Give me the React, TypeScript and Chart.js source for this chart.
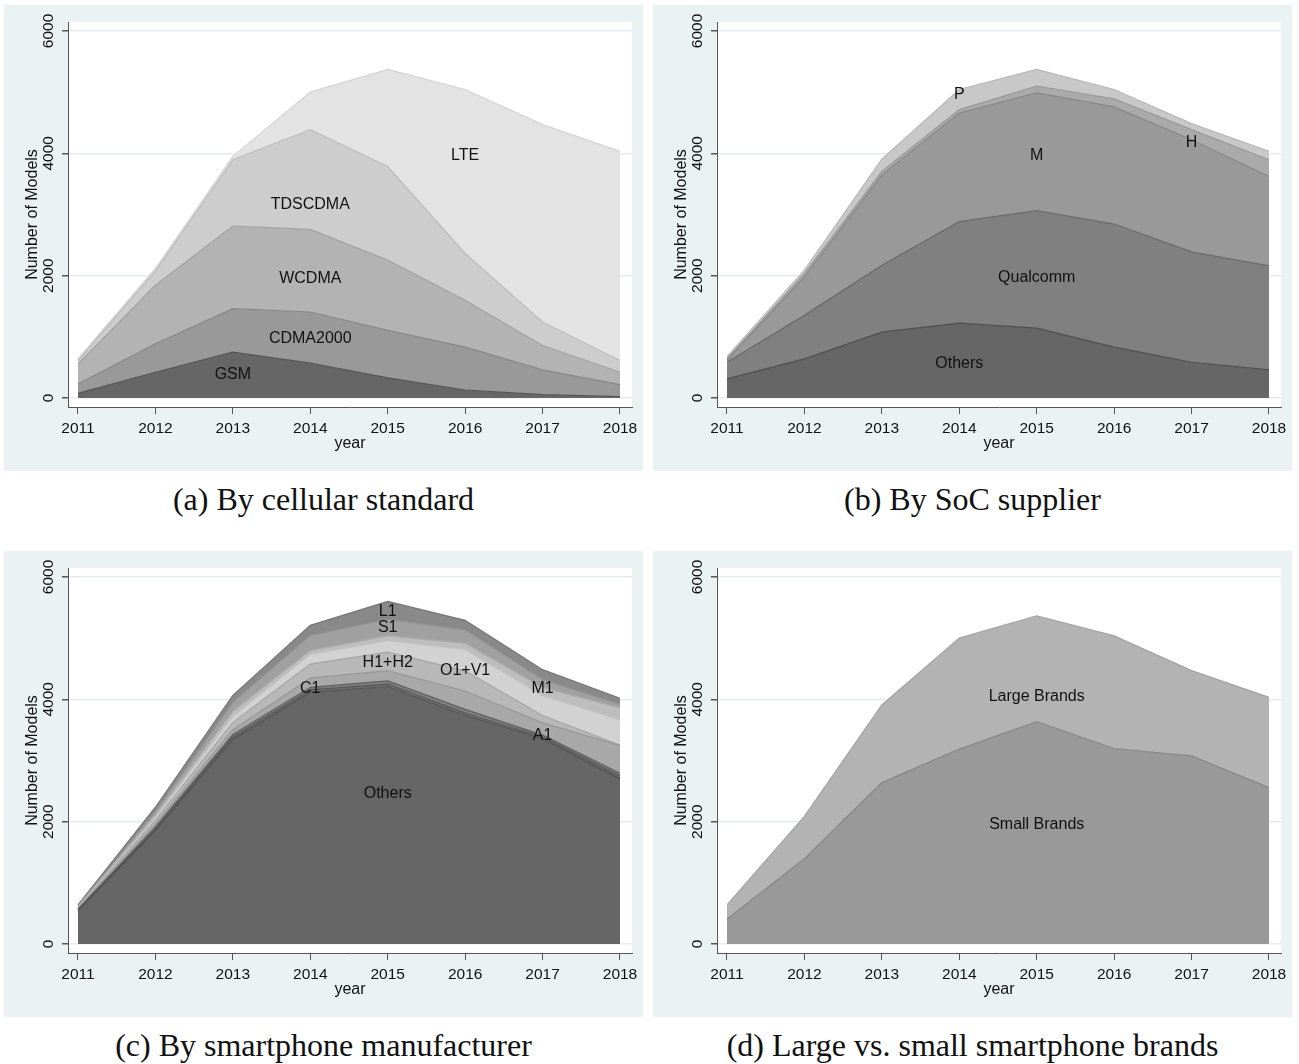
import React, { useEffect, useRef } from "react";
import { Chart, registerables } from "chart.js";

Chart.register(...registerables);

// ---------- shared axis values ----------
const YEARS = [2011, 2012, 2013, 2014, 2015, 2016, 2017, 2018];
const Y_TICKS = [0, 2000, 4000, 6000];

// ---------- (a) By cellular standard (band sizes, stacked bottom -> top) ----------
const A_GSM = [77, 421, 749, 569, 328, 131, 55, 22];
const A_CDMA2000 = [153, 465, 711, 837, 777, 700, 404, 197];
const A_WCDMA = [328, 957, 1352, 1351, 1149, 766, 400, 202];
const A_TDSCDMA = [55, 236, 1083, 1630, 1531, 766, 383, 192];
const A_LTE = [27, 38, 55, 613, 1587, 2680, 3227, 3418];

// ---------- (b) By SoC supplier ----------
const B_OTHERS = [312, 640, 1078, 1225, 1143, 831, 585, 459];
const B_QUALCOMM = [273, 711, 1094, 1658, 1920, 2013, 1805, 1702];
const B_M = [39, 629, 1476, 1777, 1925, 1915, 1833, 1460];
const B_H = [16, 55, 55, 55, 110, 131, 164, 274];
const B_P = [38, 55, 203, 328, 274, 153, 98, 136];

// ---------- (c) By smartphone manufacturer ----------
const C_OTHERS = [545, 1855, 3344, 4116, 4210, 3736, 3355, 2700];
const C_A1 = [10, 30, 40, 40, 40, 40, 30, 45];
const C_C1 = [10, 30, 40, 40, 50, 60, 30, 45];
const C_X = [10, 50, 80, 150, 170, 300, 200, 453];
const C_H1H2 = [15, 60, 120, 230, 300, 330, 120, 10];
const C_O1V1 = [10, 50, 100, 160, 190, 350, 330, 411];
const C_M1 = [10, 40, 80, 60, 80, 100, 130, 197];
const C_S1 = [15, 60, 150, 250, 270, 220, 130, 60];
const C_L1 = [13, 61, 110, 163, 290, 155, 160, 97];

// ---------- (d) Large vs. small smartphone brands ----------
const D_SMALL = [410, 1393, 2639, 3186, 3634, 3196, 3076, 2557];
const D_LARGE = [229, 694, 1268, 1814, 1732, 1842, 1394, 1475];

// ---------- in-plot text labels ----------
const A_LABELS = [
  { text: "LTE", x: 2016, y: 3970 },
  { text: "TDSCDMA", x: 2014, y: 3165 },
  { text: "WCDMA", x: 2014, y: 1955 },
  { text: "CDMA2000", x: 2014, y: 975 },
  { text: "GSM", x: 2013, y: 380 },
];
const B_LABELS = [
  { text: "P", x: 2014, y: 4965 },
  { text: "M", x: 2015, y: 3965 },
  { text: "H", x: 2017, y: 4170 },
  { text: "Qualcomm", x: 2015, y: 1975 },
  { text: "Others", x: 2014, y: 570 },
];
const C_LABELS = [
  { text: "L1", x: 2015, y: 5435 },
  { text: "S1", x: 2015, y: 5175 },
  { text: "H1+H2", x: 2015, y: 4600 },
  { text: "O1+V1", x: 2016, y: 4470 },
  { text: "M1", x: 2017, y: 4175 },
  { text: "C1", x: 2014, y: 4175 },
  { text: "A1", x: 2017, y: 3405 },
  { text: "Others", x: 2015, y: 2455 },
];
const D_LABELS = [
  { text: "Large Brands", x: 2015, y: 4040 },
  { text: "Small Brands", x: 2015, y: 1960 },
];

const BG = "#eaf2f3";
const AXIS = "#555555";
const GRID = "#e4edef";
const SANS = "'Liberation Sans', Arial, sans-serif";

type Series = { name: string; values: number[]; color: string; edge: string };
type Label = { text: string; x: number; y: number };

const PANEL_W = 639;
const PANEL_H = 466;

function PanelChart(props: {
  left: number;
  top: number;
  series: Series[];
  labels: Label[];
  caption: string;
}) {
  const ref = useRef<HTMLCanvasElement | null>(null);

  useEffect(() => {
    if (!ref.current) return;
    const labels = props.labels;
    const decor = {
      id: "decor",
      beforeDraw(chart: any) {
        const { ctx, chartArea } = chart;
        ctx.save();
        ctx.fillStyle = "#ffffff";
        ctx.fillRect(
          chartArea.left,
          chartArea.top,
          chartArea.right - chartArea.left,
          chartArea.bottom - chartArea.top
        );
        ctx.restore();
      },
      afterDraw(chart: any) {
        const { ctx, chartArea, scales } = chart;
        const xs = scales.x;
        const ys = scales.y;
        ctx.save();
        ctx.fillStyle = "#111111";
        // y tick labels (rotated)
        ctx.font = `15.5px ${SANS}`;
        ctx.textAlign = "center";
        ctx.textBaseline = "middle";
        for (const v of Y_TICKS) {
          const py = ys.getPixelForValue(v);
          ctx.save();
          ctx.translate(chartArea.left - 19, py);
          ctx.rotate(-Math.PI / 2);
          ctx.fillText(String(v), 0, 0);
          ctx.restore();
        }
        // y title
        ctx.font = `16px ${SANS}`;
        ctx.save();
        ctx.translate(chartArea.left - 35, (chartArea.top + chartArea.bottom) / 2);
        ctx.rotate(-Math.PI / 2);
        ctx.fillText("Number of Models", 0, 0);
        ctx.restore();
        // x title
        ctx.fillText("year", (chartArea.left + chartArea.right) / 2, chartArea.bottom + 37);
        // in-plot labels
        ctx.font = `16px ${SANS}`;
        for (const l of labels) {
          ctx.fillText(l.text, xs.getPixelForValue(l.x), ys.getPixelForValue(l.y));
        }
        ctx.restore();
      },
    };

    const chart = new Chart(ref.current, {
      type: "line",
      data: {
        datasets: props.series.map((s, i) => ({
          label: s.name,
          data: YEARS.map((yr, j) => ({ x: yr, y: s.values[j] })),
          backgroundColor: s.color,
          borderColor: s.edge,
          borderWidth: 1.2,
          fill: i === 0 ? "origin" : "-1",
          pointRadius: 0,
          tension: 0,
        })),
      },
      options: {
        animation: false,
        responsive: false,
        maintainAspectRatio: false,
        layout: { padding: { top: 17, right: 11, left: 0, bottom: 0 } },
        plugins: {
          legend: { display: false },
          tooltip: { enabled: false },
        },
        scales: {
          x: {
            type: "linear",
            min: 2010.871,
            max: 2018.155,
            afterBuildTicks: (s: any) => {
              s.ticks = YEARS.map((v) => ({ value: v }));
            },
            afterFit: (s: any) => {
              s.height = 64;
            },
            grid: {
              display: true,
              drawOnChartArea: false,
              drawTicks: true,
              tickLength: 7,
              tickColor: AXIS,
              color: AXIS,
            },
            border: { display: true, color: AXIS, width: 1 },
            ticks: {
              callback: (v: any) => String(v),
              font: { family: SANS, size: 15.5 },
              color: "#111111",
              padding: 5,
              maxRotation: 0,
              minRotation: 0,
              autoSkip: false,
            },
            title: { display: false },
          },
          y: {
            type: "linear",
            stacked: true,
            min: -147,
            max: 6147,
            afterBuildTicks: (s: any) => {
              s.ticks = Y_TICKS.map((v) => ({ value: v }));
            },
            afterFit: (s: any) => {
              s.width = 64;
            },
            grid: {
              color: GRID,
              lineWidth: 1.5,
              drawTicks: true,
              tickLength: 6,
              tickColor: AXIS,
            },
            border: { display: true, color: AXIS, width: 1 },
            ticks: { display: false },
          },
        },
      } as any,
      plugins: [decor],
    });
    return () => chart.destroy();
  }, []);

  return (
    <>
      <div
        style={{
          position: "absolute",
          left: props.left,
          top: props.top,
          width: PANEL_W,
          height: PANEL_H,
          background: BG,
        }}
      >
        <canvas ref={ref} width={PANEL_W} height={PANEL_H} style={{ display: "block" }} />
      </div>
      <div
        style={{
          position: "absolute",
          left: props.left,
          top: props.top + 478,
          width: PANEL_W,
          textAlign: "center",
          fontFamily: "'Liberation Serif', 'Times New Roman', serif",
          fontSize: 32,
          lineHeight: "32px",
          color: "#111",
        }}
      >
        {props.caption}
      </div>
    </>
  );
}

export default function App() {
  const seriesA: Series[] = [
    { name: "GSM", values: A_GSM, color: "#666666", edge: "#555555" },
    { name: "CDMA2000", values: A_CDMA2000, color: "#999999", edge: "#878787" },
    { name: "WCDMA", values: A_WCDMA, color: "#b3b3b3", edge: "#a2a2a2" },
    { name: "TDSCDMA", values: A_TDSCDMA, color: "#cdcdcd", edge: "#bdbdbd" },
    { name: "LTE", values: A_LTE, color: "#e3e3e3", edge: "#d4d4d4" },
  ];
  const seriesB: Series[] = [
    { name: "Others", values: B_OTHERS, color: "#666666", edge: "#4f4f4f" },
    { name: "Qualcomm", values: B_QUALCOMM, color: "#808080", edge: "#6a6a6a" },
    { name: "M", values: B_M, color: "#999999", edge: "#868686" },
    { name: "H", values: B_H, color: "#aaaaaa", edge: "#999999" },
    { name: "P", values: B_P, color: "#c8c8c8", edge: "#b8b8b8" },
  ];
  const seriesC: Series[] = [
    { name: "Others", values: C_OTHERS, color: "#666666", edge: "#505050" },
    { name: "A1", values: C_A1, color: "#707070", edge: "#555555" },
    { name: "C1", values: C_C1, color: "#7f7f7f", edge: "#606060" },
    { name: "X", values: C_X, color: "#a8a8a8", edge: "#979797" },
    { name: "H1+H2", values: C_H1H2, color: "#b8b8b8", edge: "#a5a5a5" },
    { name: "O1+V1", values: C_O1V1, color: "#d2d2d2", edge: "#c0c0c0" },
    { name: "M1", values: C_M1, color: "#bdbdbd", edge: "#aaaaaa" },
    { name: "S1", values: C_S1, color: "#a0a0a0", edge: "#8f8f8f" },
    { name: "L1", values: C_L1, color: "#898989", edge: "#767676" },
  ];
  const seriesD: Series[] = [
    { name: "Small Brands", values: D_SMALL, color: "#999999", edge: "#888888" },
    { name: "Large Brands", values: D_LARGE, color: "#b3b3b3", edge: "#a3a3a3" },
  ];

  return (
    <div
      style={{
        position: "absolute",
        left: 0,
        top: 0,
        width: 1299,
        height: 1064,
        background: "#ffffff",
        overflow: "hidden",
      }}
    >
      <PanelChart left={4} top={5} series={seriesA} labels={A_LABELS} caption="(a) By cellular standard" />
      <PanelChart left={653} top={5} series={seriesB} labels={B_LABELS} caption="(b) By SoC supplier" />
      <PanelChart left={4} top={551} series={seriesC} labels={C_LABELS} caption="(c) By smartphone manufacturer" />
      <PanelChart left={653} top={551} series={seriesD} labels={D_LABELS} caption="(d) Large vs. small smartphone brands" />
    </div>
  );
}
